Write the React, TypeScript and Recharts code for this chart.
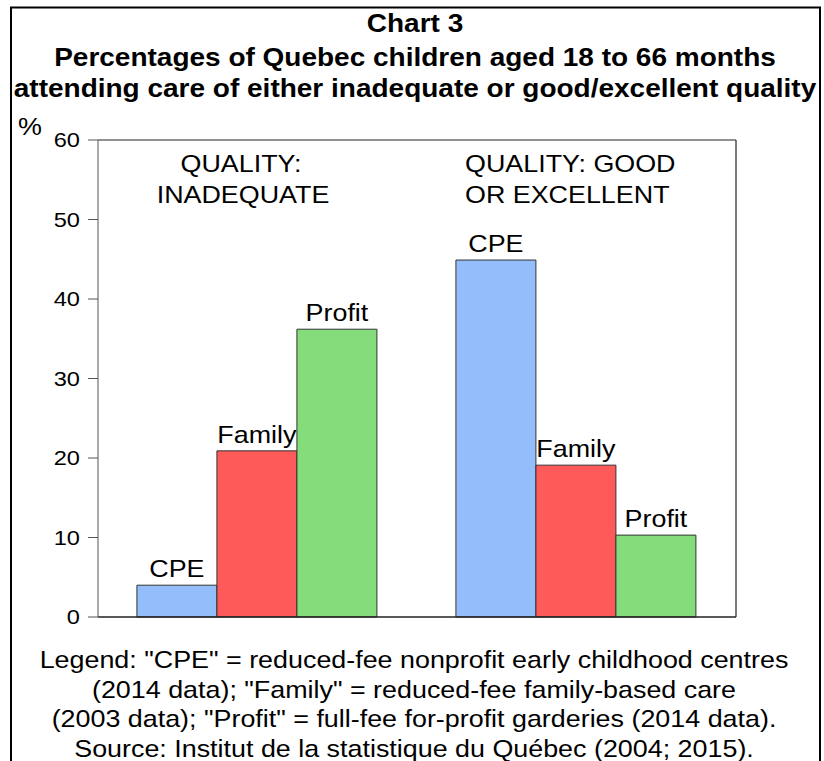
import React from "react";
import { BarChart, Bar, XAxis, YAxis, CartesianGrid, LabelList } from "recharts";

const groups = ["QUALITY: INADEQUATE", "QUALITY: GOOD OR EXCELLENT"];
const seriesNames = ["CPE", "Family", "Profit"];
const cpeValues = [4.0, 44.9];
const familyValues = [20.9, 19.1];
const profitValues = [36.2, 10.3];
const yTicks = [0, 10, 20, 30, 40, 50, 60];
const titleLines = [
  "Chart 3",
  "Percentages of Quebec children aged 18 to 66 months",
  "attending care of either inadequate or good/excellent quality",
];
const footerLines = [
  "Legend: \"CPE\" = reduced-fee nonprofit early childhood centres",
  "(2014 data); \"Family\" = reduced-fee family-based care",
  "(2003 data); \"Profit\" = full-fee for-profit garderies (2014 data).",
  "Source: Institut de la statistique du Québec (2004; 2015).",
];
const groupLabelLines = [
  ["QUALITY:", "INADEQUATE"],
  ["QUALITY: GOOD", "OR EXCELLENT"],
];
const colors = ["#94BDFB", "#FF5A5A", "#84DC7A"];

const data = groups.map((g, i) => ({
  group: g,
  CPE: cpeValues[i],
  Family: familyValues[i],
  Profit: profitValues[i],
}));

const FONT = '"Liberation Sans", Arial, Helvetica, sans-serif';
const SX = 1.12;

function SText({ x, y, children, size = 24, anchor = "middle", bold = false, sx = SX }: any) {
  return (
    <text
      transform={`translate(${x},${y}) scale(${sx},1)`}
      x={0}
      y={0}
      textAnchor={anchor}
      fontFamily={FONT}
      fontSize={size}
      fontWeight={bold ? "bold" : "normal"}
      fill="#000"
    >
      {children}
    </text>
  );
}

const YTick = (props: any) => {
  const { x, y, payload } = props;
  return (
    <text
      transform={`translate(${x},${y}) scale(1.18,1)`}
      x={0}
      y={0}
      dy={7}
      textAnchor="end"
      fontFamily={FONT}
      fontSize={20}
      fill="#000"
    >
      {payload.value}
    </text>
  );
};

const makeLabel = (name: string) => (props: any) => {
  const { x, y, width } = props;
  return <SText x={Number(x) + Number(width) / 2} y={Number(y) - 8}>{name}</SText>;
};

export default function App() {
  const W = 824;
  const H = 761;
  return (
    <div style={{ position: "absolute", left: 0, top: 0, width: W, height: H, background: "#fff" }}>
      <BarChart
        width={W}
        height={H}
        data={data}
        margin={{ top: 140, right: 88, bottom: 143, left: 58 }}
        barGap={0}
        barCategoryGap="12.2%"
      >
        <CartesianGrid
          stroke="#222"
          strokeWidth={1.2}
          horizontalCoordinatesGenerator={(p: any) => [p.offset.top]}
          verticalCoordinatesGenerator={(p: any) => [p.offset.left + p.offset.width]}
        />
        <XAxis
          dataKey="group"
          tick={false}
          tickLine={false}
          height={1}
          axisLine={{ stroke: "#222", strokeWidth: 1.5 }}
        />
        <YAxis
          domain={[0, 60]}
          ticks={yTicks}
          interval={0}
          width={40}
          tickSize={10}
          tickMargin={8}
          tick={<YTick />}
          tickLine={{ stroke: "#555" }}
          axisLine={{ stroke: "#555" }}
        />
        {seriesNames.map((name, i) => (
          <Bar
            key={name}
            dataKey={name}
            fill={colors[i]}
            stroke="#333"
            strokeWidth={1}
            isAnimationActive={false}
          >
            <LabelList dataKey={name} content={makeLabel(name)} />
          </Bar>
        ))}
      </BarChart>
      <svg
        width={W}
        height={H}
        style={{ position: "absolute", left: 0, top: 0, pointerEvents: "none" }}
      >
        <rect x={11} y={7.5} width={809} height={800} fill="none" stroke="#000" strokeWidth={2} />
        <SText x={415} y={32} size={25} bold>{titleLines[0]}</SText>
        <SText x={415} y={66} size={25} bold>{titleLines[1]}</SText>
        <SText x={415} y={97} size={25} bold>{titleLines[2]}</SText>
        <SText x={18} y={135} size={24} anchor="start">%</SText>
        <SText x={241} y={172}>{groupLabelLines[0][0]}</SText>
        <SText x={243} y={203}>{groupLabelLines[0][1]}</SText>
        <SText x={465} y={172} anchor="start">{groupLabelLines[1][0]}</SText>
        <SText x={465} y={203} anchor="start">{groupLabelLines[1][1]}</SText>
        {footerLines.map((l, i) => (
          <SText key={i} x={414} y={668 + i * 29.7}>{l}</SText>
        ))}
      </svg>
    </div>
  );
}
